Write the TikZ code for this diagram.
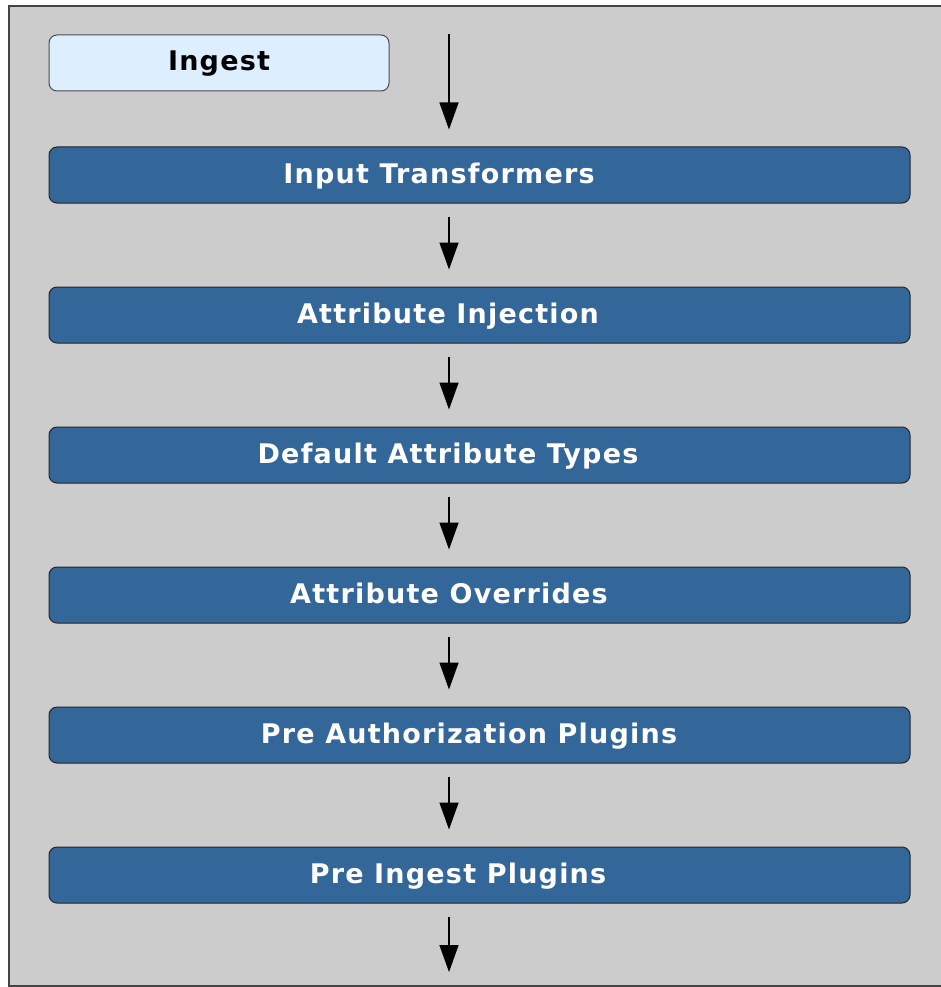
\documentclass[tikz,border=0pt]{standalone}
\usepackage{fontspec}
\setmainfont{DejaVu Sans}
\newfontfamily\labelfont[LetterSpace=4.5]{DejaVu Sans}
\usetikzlibrary{arrows.meta}
\definecolor{bgray}{HTML}{CCCCCC}
\definecolor{framec}{HTML}{444444}
\definecolor{stepblue}{HTML}{336699}
\definecolor{ingestfill}{HTML}{DDEEFF}
\tikzset{
  stagebox/.style={draw=black!85, line width=1pt, rounded corners=8pt, fill=stepblue,
    minimum width=861pt, minimum height=56pt, inner sep=0pt},
  stagetext/.style={inner sep=0pt, text=white, text height=21pt, text depth=5pt,
    font=\labelfont\fontsize{27}{32}\selectfont\bfseries},
  ingestbox/.style={draw=black!70, line width=1pt, rounded corners=8pt, fill=ingestfill,
    minimum width=340pt, minimum height=56pt, inner sep=0pt, text=black,
    text height=21pt, text depth=5pt,
    font=\labelfont\fontsize{27}{32}\selectfont\bfseries},
  flowarrow/.style={line width=1.5pt, -{Triangle[length=27pt,width=19pt]}}
}
\begin{document}
\begin{tikzpicture}[x=1pt,y=-1pt]
\useasboundingbox (0,0) rectangle (941,987);
\fill[white] (0,0) rectangle (941,987);
\fill[bgray] (9,6) rectangle (945,986);
\draw[framec, line width=2pt] (945,6) -- (9,6) -- (9,986) -- (945,986);
\node[ingestbox] (ing) at (219,63) {Ingest};
\node[stagebox] (n1) at (479.5,175) {};
\node[stagebox] (n2) at (479.5,315) {};
\node[stagebox] (n3) at (479.5,455) {};
\node[stagebox] (n4) at (479.5,595) {};
\node[stagebox] (n5) at (479.5,735) {};
\node[stagebox] (n6) at (479.5,875) {};
\node[stagetext] (t1) at (439,175) {Input Transformers};
\node[stagetext] (t2) at (448,315) {Attribute Injection};
\node[stagetext] (t3) at (448,455) {Default Attribute Types};
\node[stagetext] (t4) at (449,595) {Attribute Overrides};
\node[stagetext] (t5) at (469,735) {Pre Authorization Plugins};
\node[stagetext] (t6) at (458,875) {Pre Ingest Plugins};
\coordinate (ax) at (449,0);
\coordinate (endpt) at (449,972);
\draw[flowarrow] (ing.north -| ax) -- ([yshift=17pt]n1.north -| ax);
\draw[flowarrow] ([yshift=-13pt]n1.south -| ax) -- ([yshift=17pt]n2.north -| ax);
\draw[flowarrow] ([yshift=-13pt]n2.south -| ax) -- ([yshift=17pt]n3.north -| ax);
\draw[flowarrow] ([yshift=-13pt]n3.south -| ax) -- ([yshift=17pt]n4.north -| ax);
\draw[flowarrow] ([yshift=-13pt]n4.south -| ax) -- ([yshift=17pt]n5.north -| ax);
\draw[flowarrow] ([yshift=-13pt]n5.south -| ax) -- ([yshift=17pt]n6.north -| ax);
\draw[flowarrow] ([yshift=-13pt]n6.south -| ax) -- (endpt);
\end{tikzpicture}
\end{document}
